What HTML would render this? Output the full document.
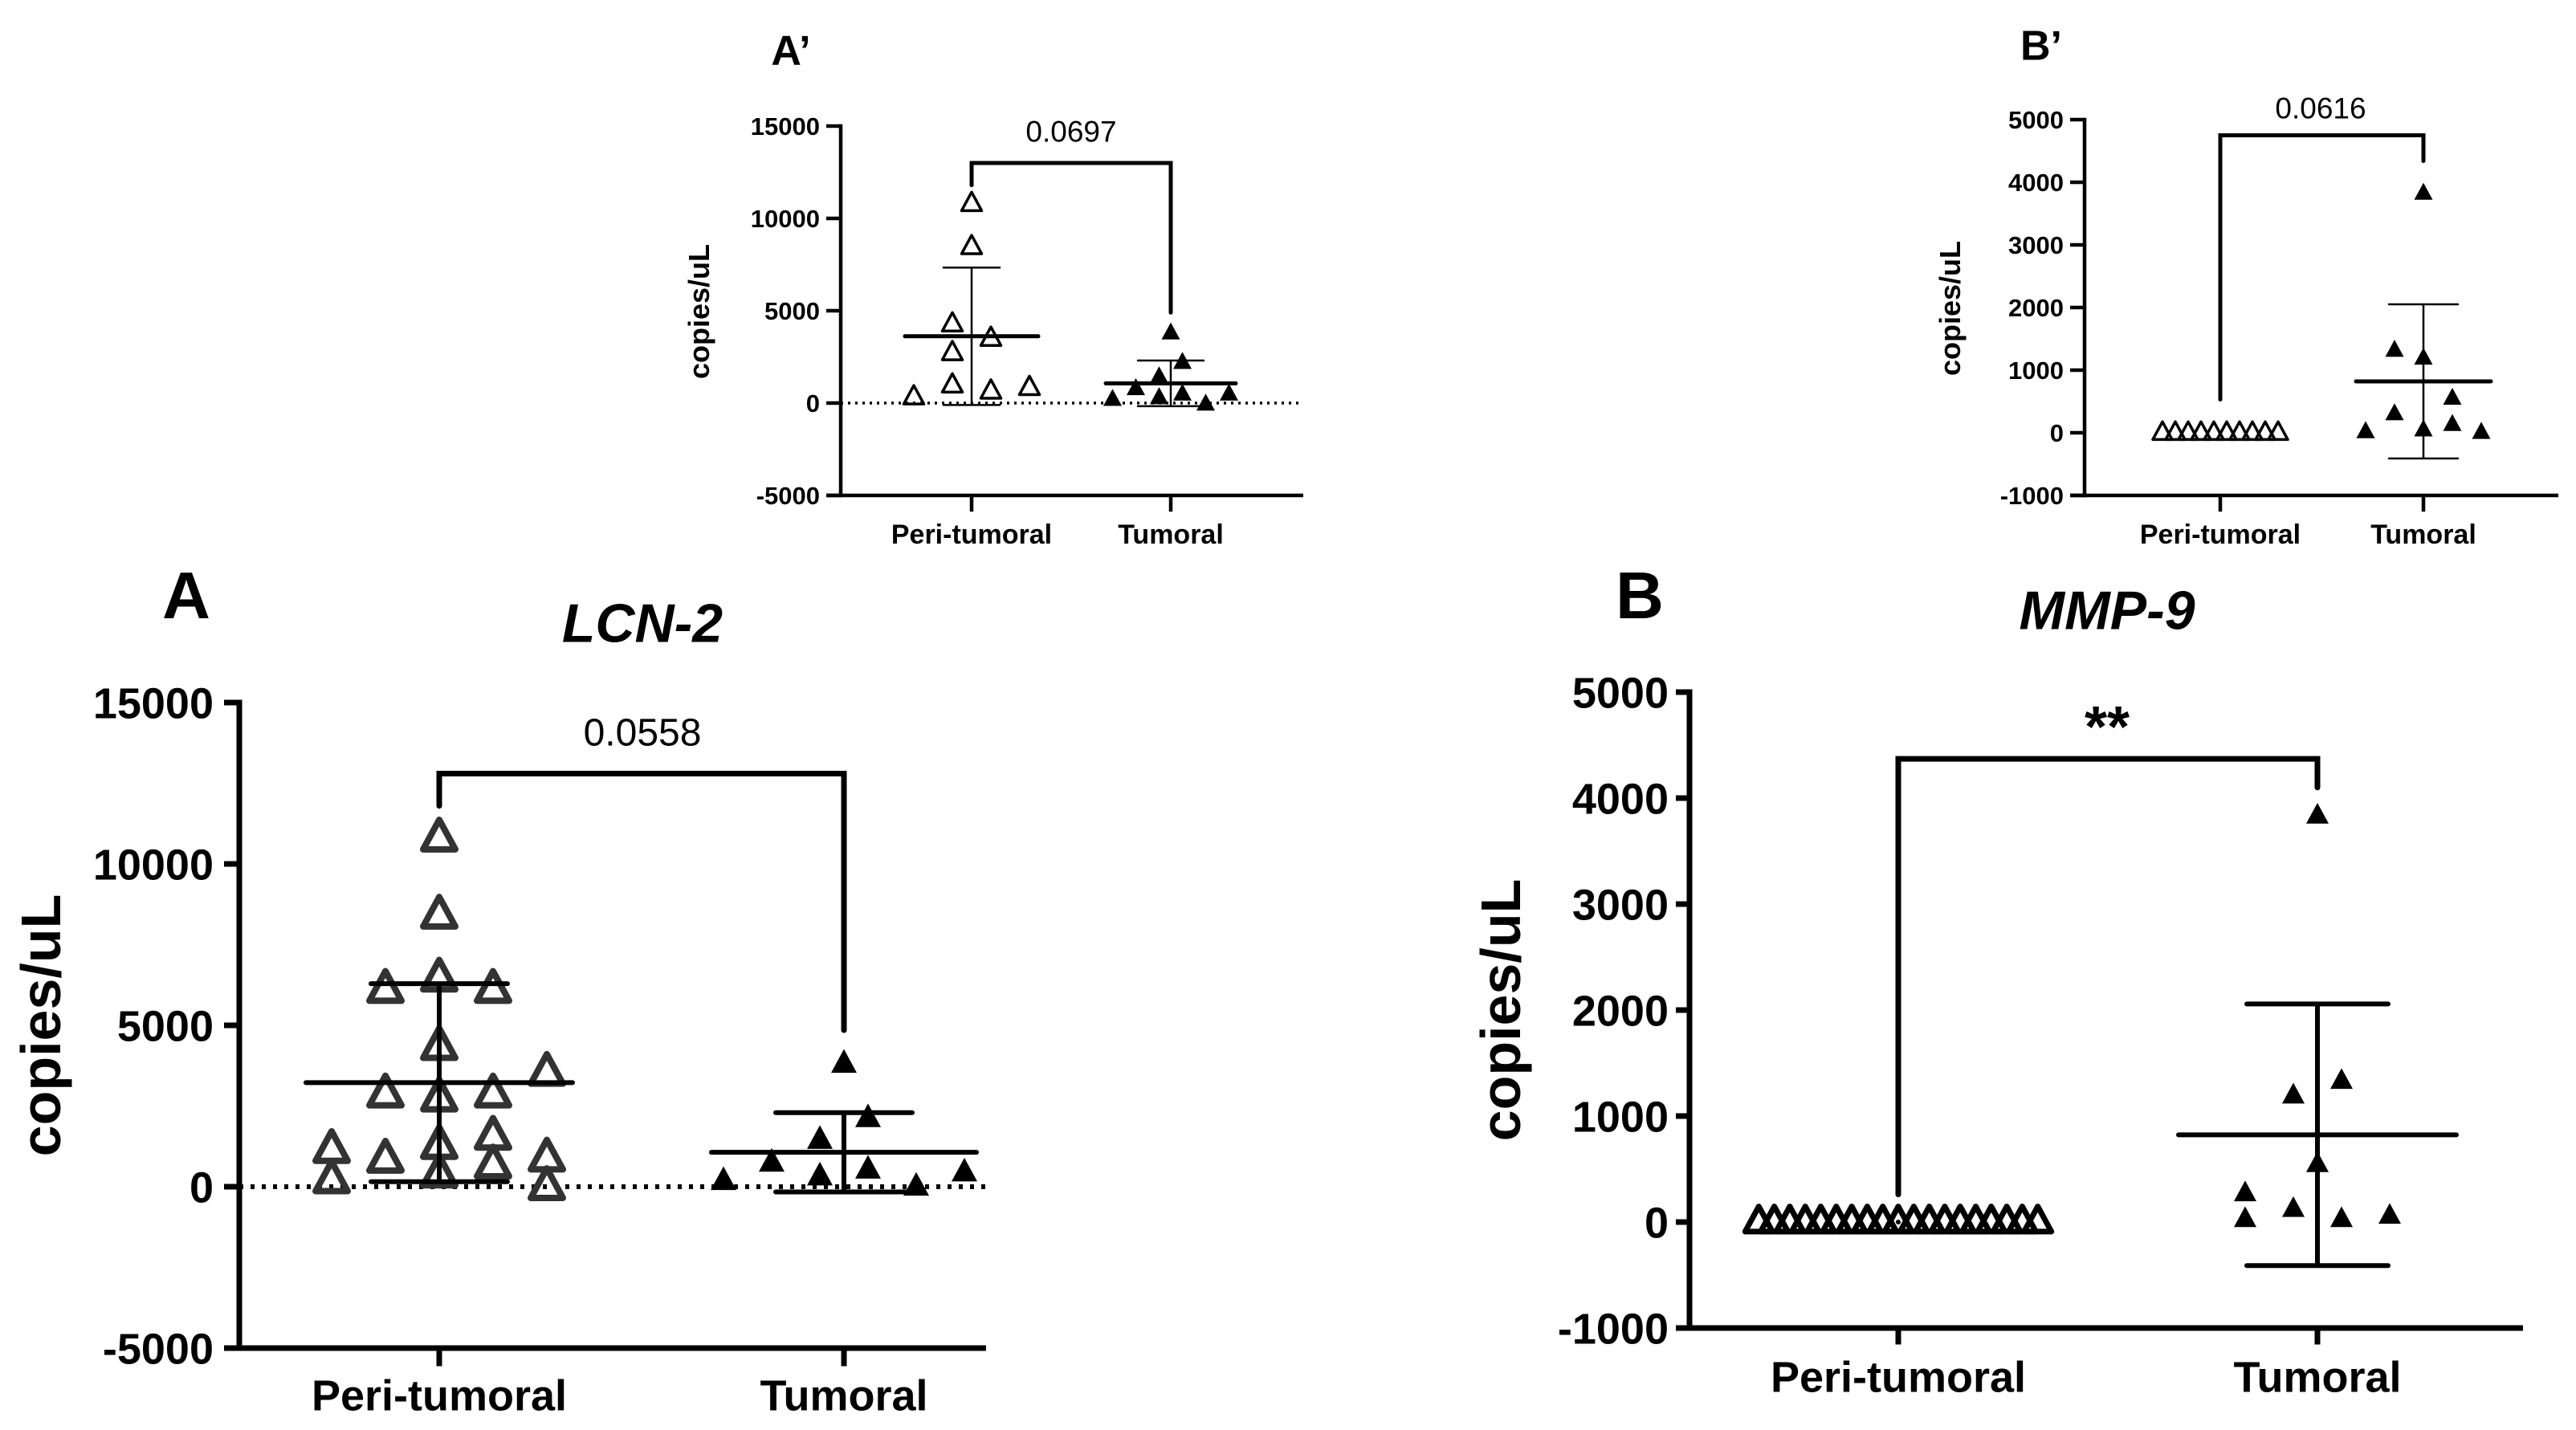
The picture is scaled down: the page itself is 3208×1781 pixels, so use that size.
<!DOCTYPE html>
<html><head><meta charset="utf-8">
<style>
html,body{margin:0;padding:0;background:#fff;}
svg{display:block;font-family:"Liberation Sans",Arial,sans-serif;}
</style></head>
<body>
<svg id="fig" width="3208" height="1781" viewBox="0 0 3208 1781" xmlns="http://www.w3.org/2000/svg">
<rect width="3208" height="1781" fill="#fff"/>
</svg>
<script>
// ---- Panel A' (top-left small LCN-2) ----
const apPeri = [10800, 8465, 4280, 3500, 2725, 973, 642, 837, 331];
const apPeriCol = [0, 0, -1, 1, -1, -1, 1, 3, -3];
const apTum = [3795, 2199, 1420, 778, 195, 292, 486, -58, 486];
const apTumCol = [0, 1, -1, -3, -5, -1, 1, 3, 5];
const apTicks = [-5000, 0, 5000, 10000, 15000];
// ---- Panel B' (top-right small MMP-9) ----
const bpPeri = [0, 0, 0, 0, 0, 0, 0, 0, 0, 0];
const bpPeriCol = [-4.5, -3.5, -2.5, -1.5, -0.5, 0.5, 1.5, 2.5, 3.5, 4.5];
const bpTum = [3824, 1317, 1191, 550, 303, 17, 46, 132, 6];
const bpTumCol = [0, -1, 0, 1, -1, -2, 0, 1, 2];
const bpTicks = [-1000, 0, 1000, 2000, 3000, 4000, 5000];
// ---- Panel A (LCN-2) ----
const aPeri = [10800, 8410, 6460, 6110, 6110, 4340, 3540, 2870, 2745, 2870, 1150, 850, 1275, 1560, 885, 210, 390, 670, 0];
const aPeriCol = [0, 0, 0, -1, 1, 0, 2, -1, 0, 1, -2, -1, 0, 1, 2, -2, 0, 1, 2];
const aTum = [177, 744, 1452, 319, 3808, 2125, 531, 0, 443];
const aTumCol = [-5, -3, -1, -1, 0, 1, 1, 3, 5];
const aTicks = [-5000, 0, 5000, 10000, 15000];
// ---- Panel B (MMP-9) ----
const bPeri = [0,0,0,0,0,0,0,0,0,0,0,0,0,0,0,0,0,0,0];
const bPeriCol = [-9,-8,-7,-6,-5,-4,-3,-2,-1,0,1,2,3,4,5,6,7,8,9];
const bTum = [3834, 1193, 1331, 546, 270, 27, 122, 27, 58];
const bTumCol = [0, -1, 1, 0, -3, -3, -1, 1, 3];
const bTicks = [-1000, 0, 1000, 2000, 3000, 4000, 5000];
const categories = ["Peri-tumoral", "Tumoral"];

const NS = "http://www.w3.org/2000/svg";
const svg = document.getElementById('fig');
function mk(tag, attrs, parent, txt){
  const e = document.createElementNS(NS, tag);
  for (const k in attrs) e.setAttribute(k, attrs[k]);
  if (txt !== undefined) e.textContent = txt;
  (parent || svg).appendChild(e);
  return e;
}
function stats(a){
  const m = a.reduce((s,v)=>s+v,0)/a.length;
  const sd = a.length>1 ? Math.sqrt(a.reduce((s,v)=>s+(v-m)*(v-m),0)/(a.length-1)) : 0;
  return [m, sd];
}
function tri(g, cx, cy, w, open, stroke, color, name){
  const h = w*0.92;
  const pts = [[cx, cy-h*0.62],[cx-w/2, cy+h*0.38],[cx+w/2, cy+h*0.38]].map(p=>p.join(',')).join(' ');
  const p = mk('polygon', {points: pts, fill: open ? '#fff' : color, stroke: color, 'stroke-width': open ? stroke : 0, 'stroke-linejoin':'round', 'fill-opacity': open ? 0 : 1}, g);
  
  
}

function panel(c){
  const g = mk('g', {});
  
  
  const y = v => c.y0 - v*c.k;
  const yMin = c.ticks[0], yMax = c.ticks[c.ticks.length-1];
  const ax = mk('line', {x1:c.ax, y1:y(yMax)-c.aw/2, x2:c.ax, y2:y(yMin)+c.aw/2, stroke:'#000','stroke-width':c.aw}, g);
   
  const xa = mk('line', {x1:c.ax-c.tl, y1:y(yMin), x2:c.xEnd, y2:y(yMin), stroke:'#000','stroke-width':c.aw}, g);
   
  c.ticks.forEach(t=>{
    const tk = mk('line', {x1:c.ax-c.tl, y1:y(t), x2:c.ax, y2:y(t), stroke:'#000','stroke-width':c.aw}, g);
     
    const tx = mk('text', {x:c.tlx, y:y(t)+c.tf*0.36, 'text-anchor':'end','font-size':c.tf,'font-weight':'bold'}, g, String(t));
     
  });
  c.cats.forEach((cx,i)=>{
    const tk = mk('line', {x1:cx, y1:y(yMin), x2:cx, y2:y(yMin)+c.tl+c.aw/2, stroke:'#000','stroke-width':c.aw}, g);
     
    const tx = mk('text', {x:cx, y:c.xly+c.xf*0.36, 'text-anchor':'middle','font-size':c.xf,'font-weight':'bold'}, g, categories[i]);
     
  });
  const yt = mk('text', {x:0, y:0, transform:`translate(${c.ytx+c.ytf*0.36},${c.yty}) rotate(-90)`, 'text-anchor':'middle','font-size':c.ytf,'font-weight':'bold'}, g, 'copies/uL');
   
  const lt = mk('text', {x:c.letter[0], y:c.letter[1]+c.letter[2]*0.36, 'text-anchor':'middle','font-size':c.letter[2],'font-weight':'bold'}, g, c.letterText);
   
  if (c.title){
    const tt = mk('text', {x:c.title[0], y:c.title[1]+c.title[2]*0.36, 'text-anchor':'middle','font-size':c.title[2],'font-weight':'bold','font-style':'italic'}, g, c.titleText);
     
  }
  if (c.dotted){
    const zl = mk('line', {x1:c.ax, y1:y(0), x2:c.xEnd, y2:y(0), stroke:'#000','stroke-width':c.dotW,'stroke-dasharray':c.dotted}, g);
     
  }
  c.series.forEach((s,si)=>{
    const cx = c.cats[si];
    const [m, sd] = stats(s.vals);
    s.vals.forEach((v,i)=>{
      tri(g, cx + s.cols[i]*s.unit, y(v), s.w, s.open, s.sw, s.color, c.id+'-'+s.name+'-point');
    });
    const ml = mk('line', {x1:cx-s.mh, y1:y(m), x2:cx+s.mh, y2:y(m), stroke:'#000','stroke-width':c.mw,'stroke-linecap':'round'}, g);
     
    if (sd > 0){
      const vl = mk('line', {x1:cx, y1:y(m+sd), x2:cx, y2:y(m-sd), stroke:'#000','stroke-width':c.ew}, g);
       
      [m+sd, m-sd].forEach(v=>{
        const cl = mk('line', {x1:cx-s.sh, y1:y(v), x2:cx+s.sh, y2:y(v), stroke:'#000','stroke-width':c.ew,'stroke-linecap':'round'}, g);
         
      });
    }
  });
  const b = c.br;
  const bp = mk('polyline', {points:`${c.cats[0]},${y(b[1])} ${c.cats[0]},${y(b[0])} ${c.cats[1]},${y(b[0])} ${c.cats[1]},${y(b[2])}`, fill:'none', stroke:'#000','stroke-width':c.bw,'stroke-linecap':'round'}, g);
   
  const pl = mk('text', {x:c.pl[0], y:c.pl[1]+c.pl[2]*0.36, 'text-anchor':'middle','font-size':c.pl[2],'font-weight':c.plBold?'bold':'normal'}, g, c.plText);
   
}

panel({id:'a-prime', ax:1047, y0:502, k:0.023, ticks:apTicks, xEnd:1623, cats:[1210,1458], aw:4.5, tl:18, tlx:1021, tf:31,
  xly:665, xf:34, ytx:870, yty:388, ytf:36, letter:[985,62,52], letterText:'A’', title:null,
  dotted:'3 6', dotW:3.5, mw:5, ew:2.5, bw:5,
  br:[13000,11800,4900], pl:[1334,163,37], plText:'0.0697',
  series:[
    {name:'peri', vals:apPeri, cols:apPeriCol, unit:24, w:25, open:true, sw:3.5, color:'#000', mh:83, sh:35},
    {name:'tumoral', vals:apTum, cols:apTumCol, unit:14.5, w:23, open:false, sw:0, color:'#000', mh:81, sh:41}
  ]});
panel({id:'b-prime', ax:2596, y0:539, k:0.078, ticks:bpTicks, xEnd:3186, cats:[2765,3018], aw:4.5, tl:18, tlx:2570, tf:31,
  xly:665, xf:34, ytx:2428, yty:384, ytf:36, letter:[2542,56,52], letterText:'B’', title:null,
  dotted:null, mw:5, ew:2.5, bw:5,
  br:[4750,530,4340], pl:[2890,134,37], plText:'0.0616',
  series:[
    {name:'peri', vals:bpPeri, cols:bpPeriCol, unit:16, w:24, open:true, sw:3.5, color:'#000', mh:0, sh:0},
    {name:'tumoral', vals:bpTum, cols:bpTumCol, unit:36, w:23, open:false, sw:0, color:'#000', mh:84, sh:43}
  ]});
panel({id:'a', ax:298, y0:1478, k:201/5000, ticks:aTicks, xEnd:1228, cats:[547,1051], aw:7, tl:19, tlx:266, tf:54,
  xly:1737, xf:54, ytx:50, yty:1277, ytf:70, letter:[232,740,83], letterText:'A', title:[800,775,68], titleText:'LCN-2',
  dotted:'5 9', dotW:6, mw:6, ew:6, bw:7,
  br:[12800,11800,4850], pl:[800,911,48], plText:'0.0558',
  series:[
    {name:'peri', vals:aPeri, cols:aPeriCol, unit:67, w:40, open:true, sw:8, color:'#333', mh:166, sh:85},
    {name:'tumoral', vals:aTum, cols:aTumCol, unit:30, w:32, open:false, sw:0, color:'#000', mh:165, sh:85}
  ]});
panel({id:'b', ax:2104, y0:1522, k:0.132, ticks:bTicks, xEnd:3142, cats:[2364,2886], aw:7, tl:17, tlx:2078, tf:54,
  xly:1714, xf:54, ytx:1868, yty:1258, ytf:70, letter:[2042,740,83], letterText:'B', title:[2624,759,68], titleText:'MMP-9',
  dotted:null, mw:6, ew:6, bw:7,
  br:[4370,260,4100], pl:[2624,904,72], plText:'**', plBold:true,
  series:[
    {name:'peri', vals:bPeri, cols:bPeriCol, unit:19.3, w:34, open:true, sw:7, color:'#000', mh:0, sh:0},
    {name:'tumoral', vals:bTum, cols:bTumCol, unit:30, w:28, open:false, sw:0, color:'#000', mh:173, sh:88}
  ]});
</script>
</body></html>
